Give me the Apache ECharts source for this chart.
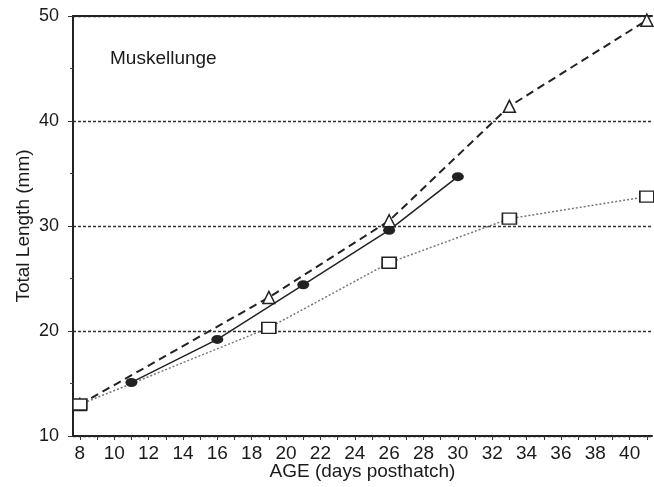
<!DOCTYPE html>
<html>
<head>
<meta charset="UTF-8">
<title>Muskellunge</title>
<script type="text/javascript" src="https://cdn.jsdelivr.net/npm/echarts@6/dist/echarts.min.js"></script>
</head>
<body style="margin:0">
	<div id="box" style="width: 654px; height: 487px;"></div>

	<script type="text/javascript">
		// 数据
		var triAge = [8, 19, 26, 33, 41];
		var triLen = [13, 23.2, 30.5, 41.4, 49.6];
		var sqAge = [8, 19, 26, 33, 41];
		var sqLen = [13, 20.3, 26.5, 30.7, 32.8];
		var dotAge = [11, 16, 21, 26, 30];
		var dotLen = [15.1, 19.2, 24.4, 29.6, 34.7];
		var xLabels = [8, 10, 12, 14, 16, 18, 20, 22, 24, 26, 28, 30, 32, 34, 36, 38, 40];
		var xTicks = [];
		for (var i = 8; i <= 41; i++) xTicks.push(i);

		function pairs(xs, ys) {
			var out = [];
			for (var i = 0; i < xs.length; i++) out.push([xs[i], ys[i]]);
			return out;
		}

		var font = 'Liberation Sans, Arial, sans-serif';
		var myChart = echarts.init(document.getElementById('box'));
		myChart.setOption({
			animation: false,
			grid: { left: 73, right: 2, top: 16, bottom: 51, outerBoundsMode: 'none' },
			graphic: [{
				type: 'text', left: 110, top: 49,
				style: { text: 'Muskellunge', font: '19px ' + font, fill: '#1a1a1a' }
			}],
			xAxis: [{
				type: 'value', min: 7.6, max: 41.3,
				name: 'AGE (days posthatch)', nameLocation: 'middle', nameGap: 26,
				nameMoveOverlap: false,
				nameTextStyle: { fontFamily: font, fontSize: 19, color: '#1a1a1a', verticalAlign: 'top' },
				axisLine: { lineStyle: { color: '#222', width: 2 } },
				axisTick: { show: true, length: 4, customValues: xTicks, lineStyle: { color: '#333' } },
				axisLabel: { customValues: xLabels, fontFamily: font, fontSize: 19, color: '#1a1a1a', margin: 8 },
				splitLine: { show: false }
			}, {
				type: 'value', min: 7.6, max: 41.3, position: 'top',
				axisLine: { show: true, lineStyle: { color: '#222', width: 2 } },
				axisTick: { show: false }, axisLabel: { show: false }, splitLine: { show: false }
			}],
			yAxis: {
				type: 'value', min: 10, max: 50, interval: 10,
				name: 'Total Length (mm)', nameLocation: 'middle', nameGap: 40,
				nameMoveOverlap: false,
				nameTextStyle: { fontFamily: font, fontSize: 19, color: '#1a1a1a' },
				axisLine: { show: true, lineStyle: { color: '#222', width: 2 } },
				axisTick: { show: true, length: 5, lineStyle: { color: '#333' } },
				minorTick: { show: true, splitNumber: 2, length: 3, lineStyle: { color: '#444' } },
				axisLabel: { fontFamily: font, fontSize: 18, color: '#1a1a1a', margin: 14 },
				splitLine: { show: true, lineStyle: { color: '#333', type: [3, 2], width: 1.3 } }
			},
			series: [{
				name: 'tri', type: 'line', data: pairs(triAge, triLen),
				symbol: 'triangle', symbolSize: 12,
				itemStyle: { color: '#fff', borderColor: '#222', borderWidth: 1.5 },
				lineStyle: { color: '#222', type: [8, 5], width: 2 }
			}, {
				name: 'sq', type: 'line', data: pairs(sqAge, sqLen),
				symbol: 'rect', symbolSize: [14, 11],
				itemStyle: { color: '#fff', borderColor: '#222', borderWidth: 1.5 },
				lineStyle: { color: '#777', type: [2, 2], width: 1.5 }
			}, {
				name: 'dot', type: 'line', data: pairs(dotAge, dotLen),
				symbol: 'circle', symbolSize: [12, 9],
				itemStyle: { color: '#222' },
				lineStyle: { color: '#222', width: 1.5 }
			}]
		});
	</script>

</body>
</html>
